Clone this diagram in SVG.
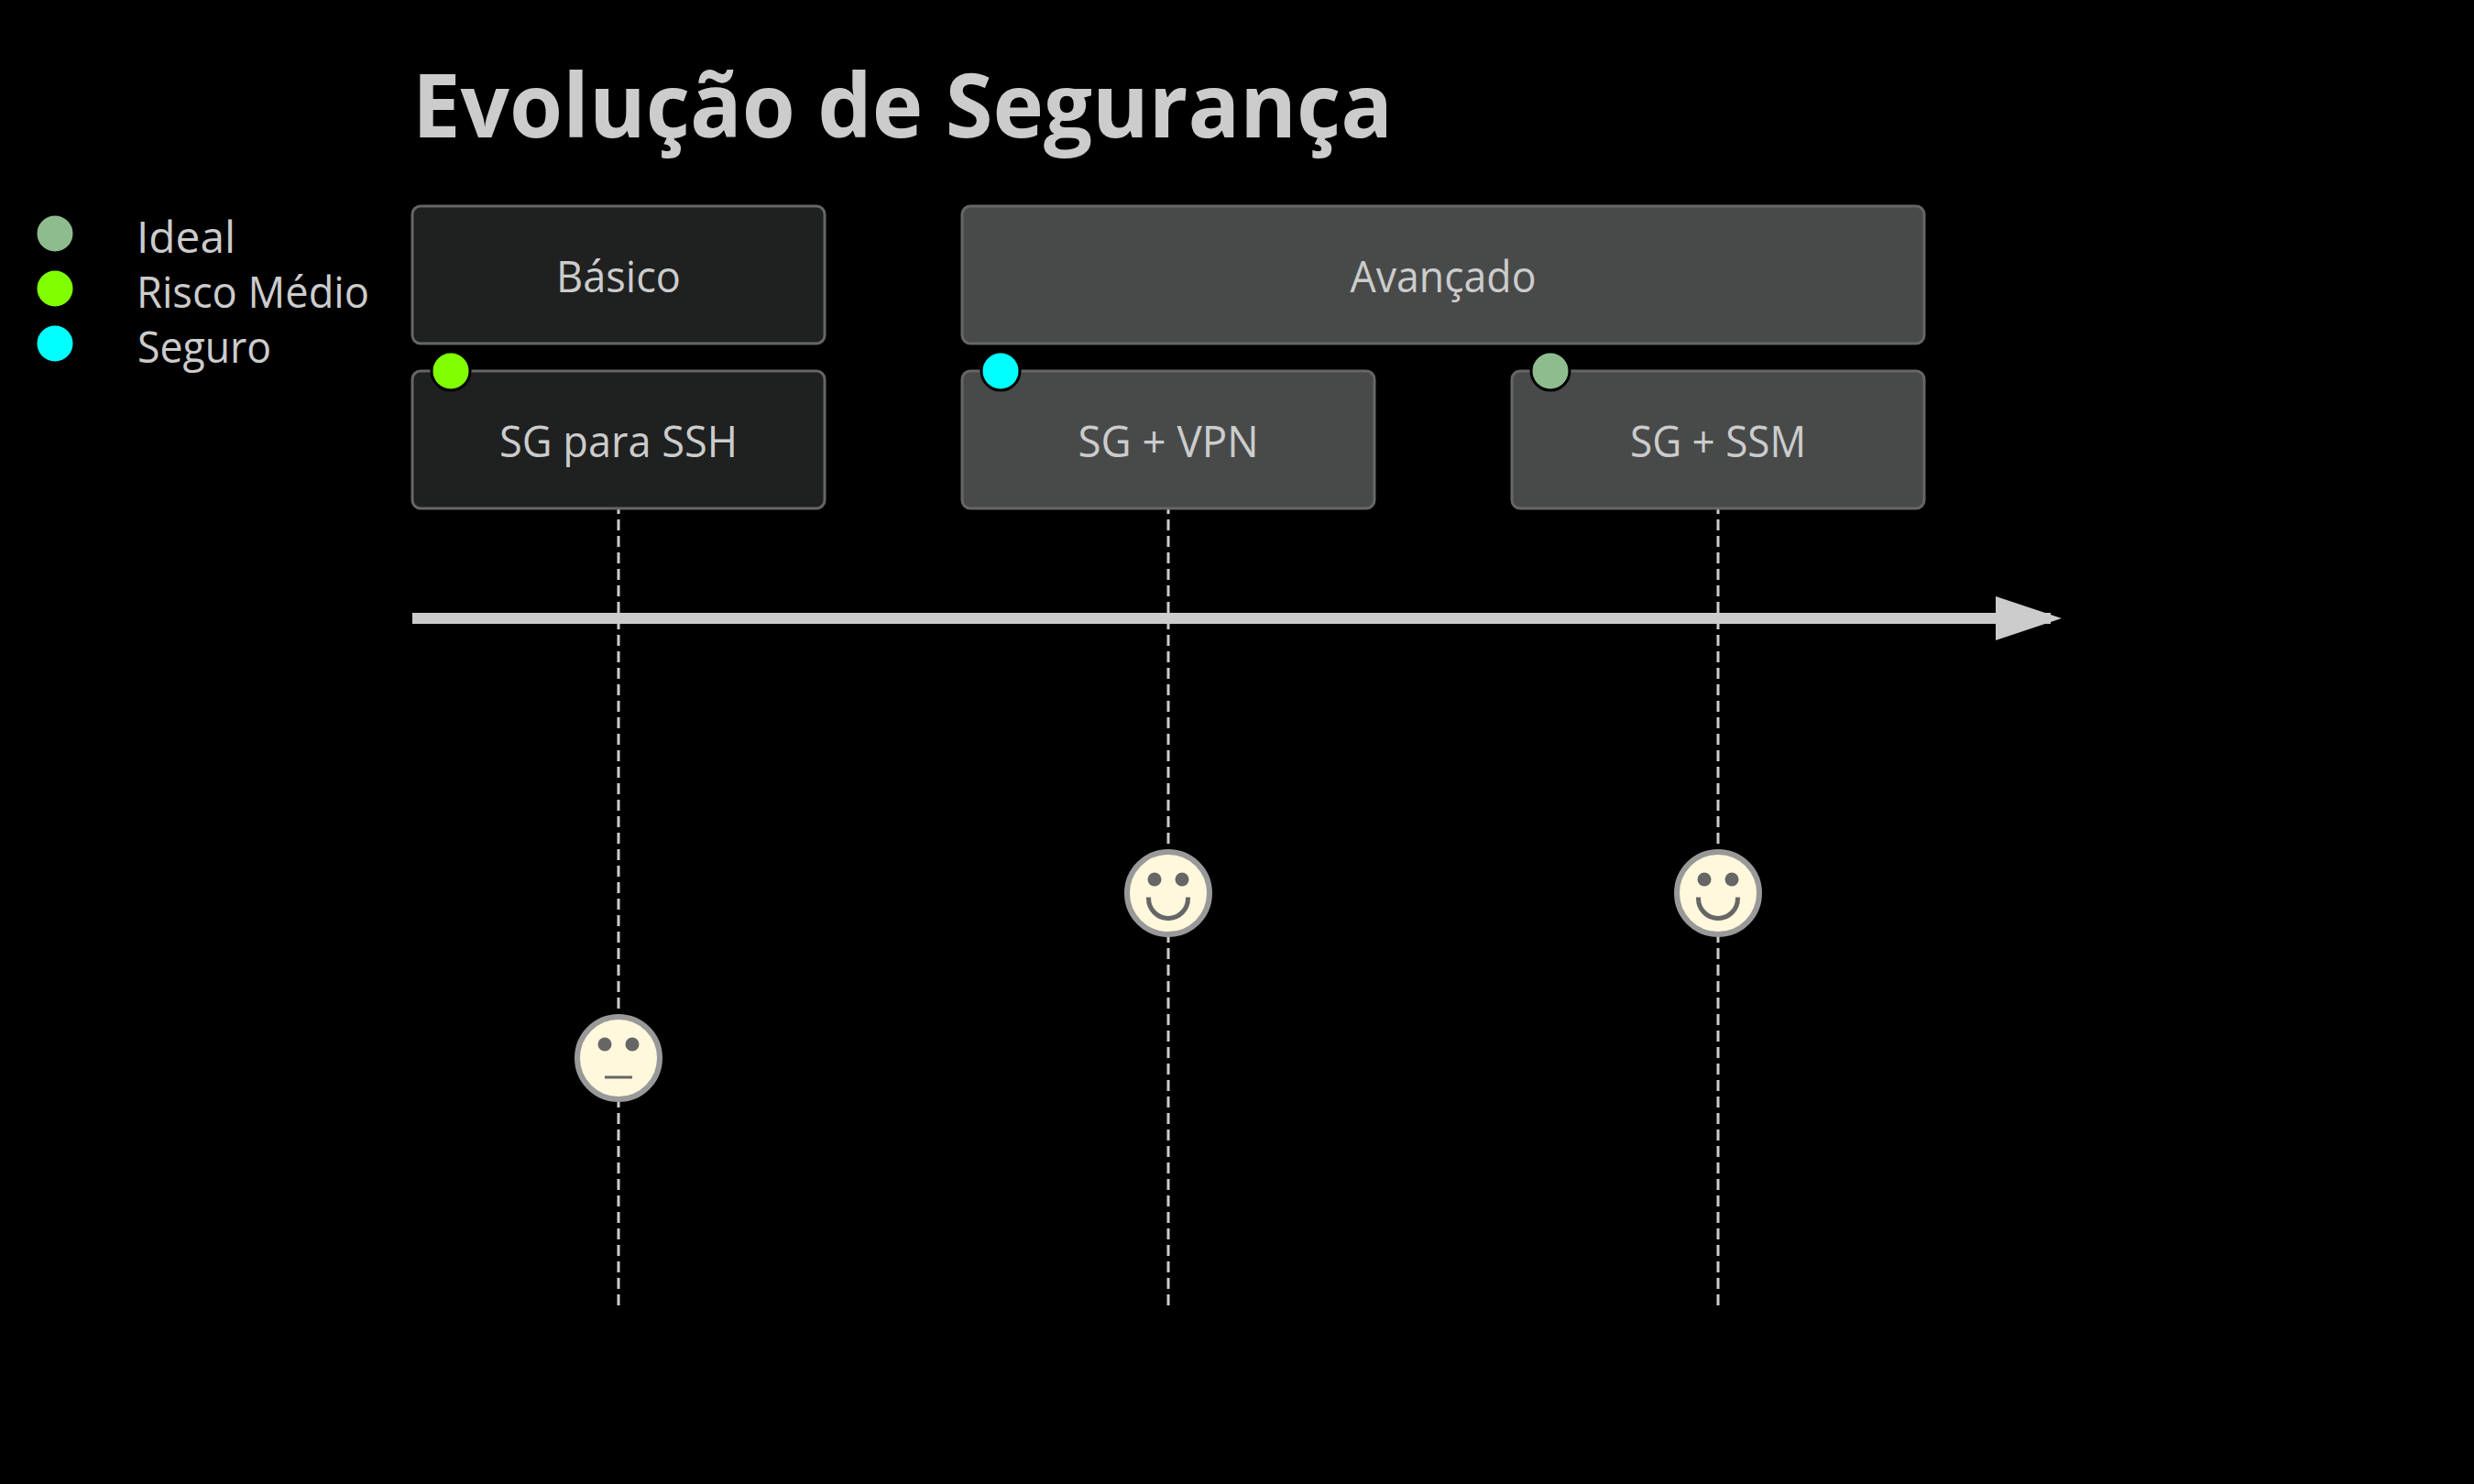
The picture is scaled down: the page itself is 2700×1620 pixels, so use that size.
<svg xmlns="http://www.w3.org/2000/svg" width="2700" height="1620" viewBox="0 0 2700 1620">
<style>
text{fill:#ccc;font-family:"Open Sans","DejaVu Sans",sans-serif}
.t{font-size:48px;text-anchor:middle}
.l{font-size:48px}
.title{font-size:96px;font-weight:bold}
.s1{fill:#1f2020;stroke:#666;stroke-width:3}
.s2{fill:#484a4a;stroke:#666;stroke-width:3}
.dot{stroke:#000;stroke-width:3}
.face{fill:#fff8dc;stroke:#999;stroke-width:6}
.eye{fill:#666}
.mouth{fill:#666;stroke:#666;stroke-width:3}
.drop{stroke:#ccc;stroke-width:3;stroke-dasharray:12 6;fill:none}
</style>
<defs><marker id="arrowhead" markerUnits="userSpaceOnUse" markerWidth="72" markerHeight="48" refX="60" refY="24" viewBox="0 0 72 48" orient="auto"><path d="M0 0V48L72 24Z" fill="#ccc"/></marker></defs>
<rect width="2700" height="1620" fill="#000"/>
<text class="title" x="450" y="150" textLength="1070" lengthAdjust="spacingAndGlyphs">Evolução de Segurança</text>
<g id="legend">
<circle class="dot" cx="60" cy="255" r="21" fill="#8fbc8f"/><text class="l" x="149" y="276" textLength="108" lengthAdjust="spacingAndGlyphs">Ideal</text>
<circle class="dot" cx="60" cy="315" r="21" fill="#7fff00"/><text class="l" x="149" y="336" textLength="254" lengthAdjust="spacingAndGlyphs">Risco Médio</text>
<circle class="dot" cx="60" cy="375" r="21" fill="#00ffff"/><text class="l" x="150" y="396" textLength="146" lengthAdjust="spacingAndGlyphs">Seguro</text>
</g>
<g id="connectors">
<line class="drop" x1="675" y1="405" x2="675" y2="1425"/>
<line class="drop" x1="1275" y1="405" x2="1275" y2="1425"/>
<line class="drop" x1="1875" y1="405" x2="1875" y2="1425"/>
<line x1="450" y1="675" x2="2238" y2="675" stroke="#ccc" stroke-width="12" marker-end="url(#arrowhead)"/>
</g>
<g id="section-basico"><rect class="s1" x="450" y="225" width="450" height="150" rx="9"/><text class="t" x="675" y="319" textLength="136" lengthAdjust="spacingAndGlyphs">Básico</text></g>
<g id="section-avancado"><rect class="s2" x="1050" y="225" width="1050" height="150" rx="9"/><text class="t" x="1575" y="319" textLength="203" lengthAdjust="spacingAndGlyphs">Avançado</text></g>
<g id="task-ssh"><rect class="s1" x="450" y="405" width="450" height="150" rx="9"/><circle class="dot" cx="492" cy="405" r="21" fill="#7fff00"/><text class="t" x="675" y="499" textLength="260" lengthAdjust="spacingAndGlyphs">SG para SSH</text>
<circle class="face" cx="675" cy="1155" r="45"/><circle class="eye" cx="660" cy="1140" r="7.5"/><circle class="eye" cx="690" cy="1140" r="7.5"/><line x1="660" y1="1176" x2="690" y2="1176" stroke="#666" stroke-width="3"/></g>
<g id="task-vpn"><rect class="s2" x="1050" y="405" width="450" height="150" rx="9"/><circle class="dot" cx="1092" cy="405" r="21" fill="#00ffff"/><text class="t" x="1275" y="499" textLength="197" lengthAdjust="spacingAndGlyphs">SG + VPN</text>
<circle class="face" cx="1275" cy="975" r="45"/><circle class="eye" cx="1260" cy="960" r="7.5"/><circle class="eye" cx="1290" cy="960" r="7.5"/><path class="mouth" d="M1252.500 981A22.500 22.500 0 0 0 1297.500 981H1295.450A20.450 20.450 0 0 1 1254.550 981Z"/></g>
<g id="task-ssm"><rect class="s2" x="1650" y="405" width="450" height="150" rx="9"/><circle class="dot" cx="1692" cy="405" r="21" fill="#8fbc8f"/><text class="t" x="1875" y="499" textLength="192" lengthAdjust="spacingAndGlyphs">SG + SSM</text>
<circle class="face" cx="1875" cy="975" r="45"/><circle class="eye" cx="1860" cy="960" r="7.5"/><circle class="eye" cx="1890" cy="960" r="7.5"/><path class="mouth" d="M1852.500 981A22.500 22.500 0 0 0 1897.500 981H1895.450A20.450 20.450 0 0 1 1854.550 981Z"/></g>
</svg>
